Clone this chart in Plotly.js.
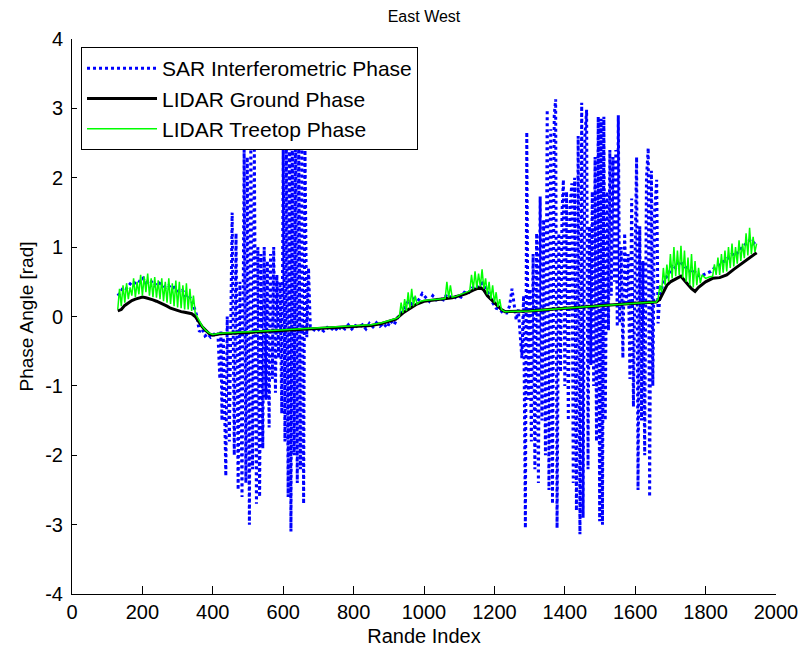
<!DOCTYPE html>
<html><head><meta charset="utf-8">
<script src="https://cdn.plot.ly/plotly-3.0.1.min.js"></script>
<style>html,body{margin:0;padding:0;background:#fff}</style>
</head><body><div id="chart" style="width:800px;height:651px"></div>
<script>
// ---------- LIDAR ground phase ----------
const groundX = [130,140,150,160,170,180,190,200,210,220,230,240,250,260,270,280,290,300,310,320,330,340,350,360,370,380,390,400,410,420,500,600,700,800,850,880,900,920,940,960,980,1000,1020,1040,1060,1080,1100,1120,1140,1160,1170,1180,1200,1220,1230,1250,1300,1400,1500,1600,1660,1670,1680,1690,1700,1720,1730,1740,1760,1770,1780,1800,1820,1840,1860,1880,1900,1920,1940,1945];
const groundY = [0.08,0.10,0.16,0.20,0.23,0.25,0.27,0.28,0.27,0.26,0.24,0.22,0.20,0.17,0.15,0.12,0.10,0.08,0.07,0.06,0.05,0.04,0.00,-0.08,-0.15,-0.20,-0.25,-0.27,-0.26,-0.25,-0.23,-0.20,-0.18,-0.15,-0.13,-0.10,-0.07,-0.04,0.05,0.12,0.18,0.22,0.23,0.24,0.25,0.27,0.30,0.33,0.38,0.42,0.38,0.30,0.20,0.10,0.07,0.07,0.08,0.12,0.16,0.19,0.21,0.25,0.35,0.45,0.50,0.55,0.58,0.52,0.40,0.36,0.42,0.50,0.55,0.56,0.60,0.68,0.75,0.83,0.90,0.92];

// ---------- LIDAR treetop phase (segments) ----------
const treeX1 = [130,135,140,145,150,155,160,165,170,175,180,185,190,195,200,205,210,215,220,225,230,235,240,245,250,255,260,265,270,275,280,285,290,295,300,305,310,315,320,325,330,335,340,345,350,355];
const treeY1 = [0.10,0.40,0.15,0.45,0.20,0.48,0.25,0.42,0.30,0.55,0.28,0.50,0.32,0.60,0.30,0.58,0.35,0.62,0.30,0.55,0.28,0.57,0.27,0.52,0.25,0.55,0.22,0.50,0.20,0.55,0.18,0.48,0.15,0.52,0.13,0.50,0.12,0.45,0.10,0.48,0.10,0.40,0.08,0.30,0.05,0.00];
const treeX2 = [360,370,380,390,400,420,500,600,700,800,850,880,900,920];
const treeY2 = [-0.06,-0.14,-0.20,-0.24,-0.26,-0.24,-0.22,-0.19,-0.17,-0.14,-0.12,-0.09,-0.06,-0.03];
const treeX3 = [930,935,940,945,950,955,960,965,970,975,980,990,1000,1010,1020,1040,1060,1065,1070,1075,1080,1090,1100,1110,1120];
const treeY3 = [0.00,0.20,0.05,0.25,0.08,0.35,0.12,0.40,0.15,0.30,0.18,0.22,0.23,0.24,0.24,0.25,0.26,0.50,0.27,0.45,0.28,0.29,0.31,0.33,0.35];
const treeX4 = [1130,1135,1140,1145,1150,1155,1160,1165,1170,1175,1180,1185,1190,1195,1200,1205,1210,1215,1220,1230];
const treeY4 = [0.37,0.60,0.39,0.65,0.41,0.62,0.43,0.68,0.40,0.55,0.32,0.50,0.25,0.45,0.20,0.35,0.14,0.25,0.10,0.07];
const treeX5 = [1300,1400,1500,1600,1660];
const treeY5 = [0.08,0.12,0.16,0.19,0.21];
const treeX6 = [1665,1670,1675,1680,1685,1690,1695,1700,1705,1710,1715,1720,1725,1730,1735,1740,1745,1750,1755,1760,1765,1770,1775,1780,1785,1790,1800,1810,1820,1825,1830,1835,1840,1845,1850,1855,1860,1865,1870,1875,1880,1885,1890,1895,1900,1905,1910,1915,1920,1925,1930,1935,1940,1945];
const treeY6 = [0.25,0.45,0.35,0.70,0.45,0.75,0.50,0.90,0.55,1.00,0.58,0.95,0.60,1.02,0.56,0.95,0.50,0.85,0.45,0.90,0.42,0.80,0.45,0.70,0.48,0.60,0.55,0.57,0.58,0.75,0.60,0.85,0.60,0.90,0.63,0.95,0.65,1.00,0.70,1.05,0.72,1.00,0.76,1.10,0.80,1.05,0.84,1.20,0.88,1.28,0.90,1.15,0.93,1.05];

// ---------- SAR interferometric phase (segments) ----------
const sarX1 = [130,138,146,154,162,170,178,186,194,202,210,218,226,234,242,250,258,266,274,282,290,298,306,314,322,330,338,346,354,362,370,378,386,394,402,410];
const sarY1 = [0.30,0.35,0.42,0.40,0.45,0.50,0.48,0.52,0.50,0.55,0.48,0.52,0.50,0.45,0.50,0.48,0.45,0.42,0.45,0.40,0.42,0.38,0.35,0.38,0.30,0.32,0.25,0.15,0.02,-0.22,-0.18,-0.28,-0.25,-0.30,-0.27,-0.22];
const sarX2 = [415,420,423,426,430,437,441,447,455,461,466,472,477,483,489,494,498,504,508,513,518,524,528,533,537,542,546,551,555,560,564,569,573,578,582,587,591,596,600,605,609,614,618,622,626,631,635,640,644,649,653,658,662,667,672,677];
const sarY2 = [-0.30,-0.90,-0.20,-1.50,-0.30,-2.30,0.00,-1.80,1.50,-2.00,1.20,-2.50,0.50,-2.60,2.40,-2.40,2.30,-3.00,2.50,-2.20,2.40,-2.70,1.00,-2.60,0.90,-1.90,1.00,-1.20,0.80,-1.60,0.90,-0.90,1.00,-1.10,0.60,-0.60,0.50,-1.40,2.40,-1.80,2.60,-2.60,2.90,-3.10,2.70,-2.00,2.80,-2.40,2.60,-2.20,2.50,-2.70,2.40,-0.30,0.70,-0.15];
const sarX3 = [685,695,705,715,725,735,745,755,765,775,785,795,805,815,825,835,845,855,865,875,885,895,905,915,925,935,945,955,965,975,985,995,1005,1015,1025,1035,1045,1055,1065,1075,1085,1095,1105,1115,1125,1135,1145,1155,1165,1175,1185,1195,1205,1215,1225,1235,1243,1250,1256,1262,1268,1274];
const sarY3 = [-0.18,-0.22,-0.17,-0.21,-0.16,-0.20,-0.15,-0.21,-0.14,-0.18,-0.12,-0.18,-0.13,-0.16,-0.12,-0.18,-0.10,-0.15,-0.09,-0.14,-0.10,-0.16,-0.06,-0.12,-0.02,0.05,0.12,0.22,0.18,0.28,0.24,0.33,0.28,0.22,0.30,0.24,0.26,0.24,0.32,0.28,0.26,0.30,0.28,0.35,0.33,0.40,0.45,0.42,0.48,0.40,0.32,0.20,0.12,0.10,0.05,0.05,0.15,0.40,0.15,-0.05,0.10,-0.30];
const sarX4 = [1278,1283,1288,1292,1296,1300,1305,1310,1315,1320,1325,1330,1335,1340,1345,1350,1355,1360,1365,1370,1374,1378,1383,1388,1392,1396,1400,1405,1410,1415,1420,1424,1428,1433,1438,1443,1448,1452,1457,1462,1466,1470,1474,1478,1482,1486,1490,1495,1499,1503,1507,1511,1515,1520,1524,1528,1532,1537,1541,1545,1549,1552,1556,1560,1565,1570,1575,1580,1585,1590,1595,1600,1604,1608,1613,1618,1622,1627,1632,1637,1641,1646,1650,1655,1661,1665,1670];
const sarY4 = [-0.60,0.30,-3.05,2.66,-1.20,0.40,-1.80,0.90,-2.20,1.20,-2.40,1.73,-1.50,1.40,-2.00,2.98,-2.50,2.70,-2.70,2.90,3.13,-3.05,1.20,-0.80,1.50,1.97,-1.00,1.80,-1.50,1.60,1.92,-2.40,2.00,-2.80,2.60,-3.14,3.08,-2.90,2.60,2.98,-2.20,1.30,-0.70,1.80,-1.00,2.30,-1.80,2.88,-2.95,2.85,-3.00,2.88,-1.50,1.80,-0.20,2.40,0.30,2.30,0.50,2.40,-0.15,2.90,-0.10,1.00,-0.60,1.20,0.20,0.90,-0.90,1.70,-1.30,1.00,2.30,-2.50,1.30,-1.50,0.80,-2.00,2.00,2.43,-2.60,2.10,-1.00,1.50,1.97,-0.10,0.30];
const sarX5 = [1675,1685,1695,1705,1715,1725,1735,1745,1755,1765,1775,1785,1795,1805,1815,1825,1835,1845,1855,1865,1875,1885,1895,1905,1915,1925,1935,1945];
const sarY5 = [0.40,0.55,0.60,0.75,0.70,0.80,0.75,0.70,0.65,0.68,0.60,0.58,0.60,0.62,0.65,0.70,0.72,0.78,0.80,0.85,0.90,0.88,0.95,1.00,1.05,1.10,1.05,1.10];

const seriesNames = ['SAR Interferometric Phase','LIDAR Ground Phase','LIDAR Treetop Phase'];
const xTicks = [0,200,400,600,800,1000,1200,1400,1600,1800,2000];
const yTicks = [-4,-3,-2,-1,0,1,2,3,4];

const sarX = [].concat(sarX1,sarX2,sarX3,sarX4,sarX5);
const sarY = [].concat(sarY1,sarY2,sarY3,sarY4,sarY5);
const treeX = [].concat(treeX1,treeX2,treeX3,treeX4,treeX5,treeX6);
const treeY = [].concat(treeY1,treeY2,treeY3,treeY4,treeY5,treeY6);

const traces = [
  {x:sarX, y:sarY, type:'scatter', mode:'lines', name:seriesNames[0],
   line:{color:'rgb(0,0,255)', width:3, dash:'dot'}},
  {x:groundX, y:groundY, type:'scatter', mode:'lines', name:seriesNames[1],
   line:{color:'#000000', width:3}},
  {x:treeX, y:treeY, type:'scatter', mode:'lines', name:seriesNames[2],
   line:{color:'rgb(0,255,0)', width:1.5}}
];

const tickFont = {family:'"Liberation Sans Narrow", "Arial Narrow", "Liberation Sans", Arial, sans-serif', size:20, color:'#000'};

const layout = {
  width:800, height:651,
  margin:{l:72, r:24, t:39, b:57},
  paper_bgcolor:'#ffffff', plot_bgcolor:'#ffffff',
  font:{family:'"Liberation Sans", Arial, sans-serif', color:'#000'},
  title:{text:'East West', x:0.5, xref:'paper', xanchor:'center', y:1-16/651, yref:'container', yanchor:'middle',
         font:{size:16, color:'#000'}},
  showlegend:true,
  legend:{x:0.0128, y:0.9856, xanchor:'left', yanchor:'top', bgcolor:'#ffffff',
          bordercolor:'#000000', borderwidth:1, font:{size:21, color:'#000'},
          itemwidth:70, tracegroupgap:0},
  xaxis:{range:[0,2000], tickmode:'array', tickvals:xTicks, ticktext:xTicks.map(String),
         showline:true, linecolor:'#000', linewidth:1, mirror:false,
         ticks:'inside', ticklen:8, tickcolor:'#000', tickwidth:1,
         showgrid:false, zeroline:false, tickfont:tickFont,
         title:{text:'Rande Index', font:{family:'"Liberation Sans Narrow", "Liberation Sans", Arial, sans-serif', size:20, color:'#000'}, standoff:6}},
  yaxis:{range:[-4,4], tickmode:'array', tickvals:yTicks, ticktext:yTicks.map(String),
         showline:true, linecolor:'#000', linewidth:1, mirror:false,
         ticks:'inside', ticklen:5, tickcolor:'#000', tickwidth:1,
         showgrid:false, zeroline:false, tickfont:tickFont, ticklabelstandoff:4,
         title:{text:'Phase Angle [rad]', font:{size:19, color:'#000'}, standoff:6}}
};

Plotly.newPlot('chart', traces, layout, {displayModeBar:false, staticPlot:true});
</script></body></html>
